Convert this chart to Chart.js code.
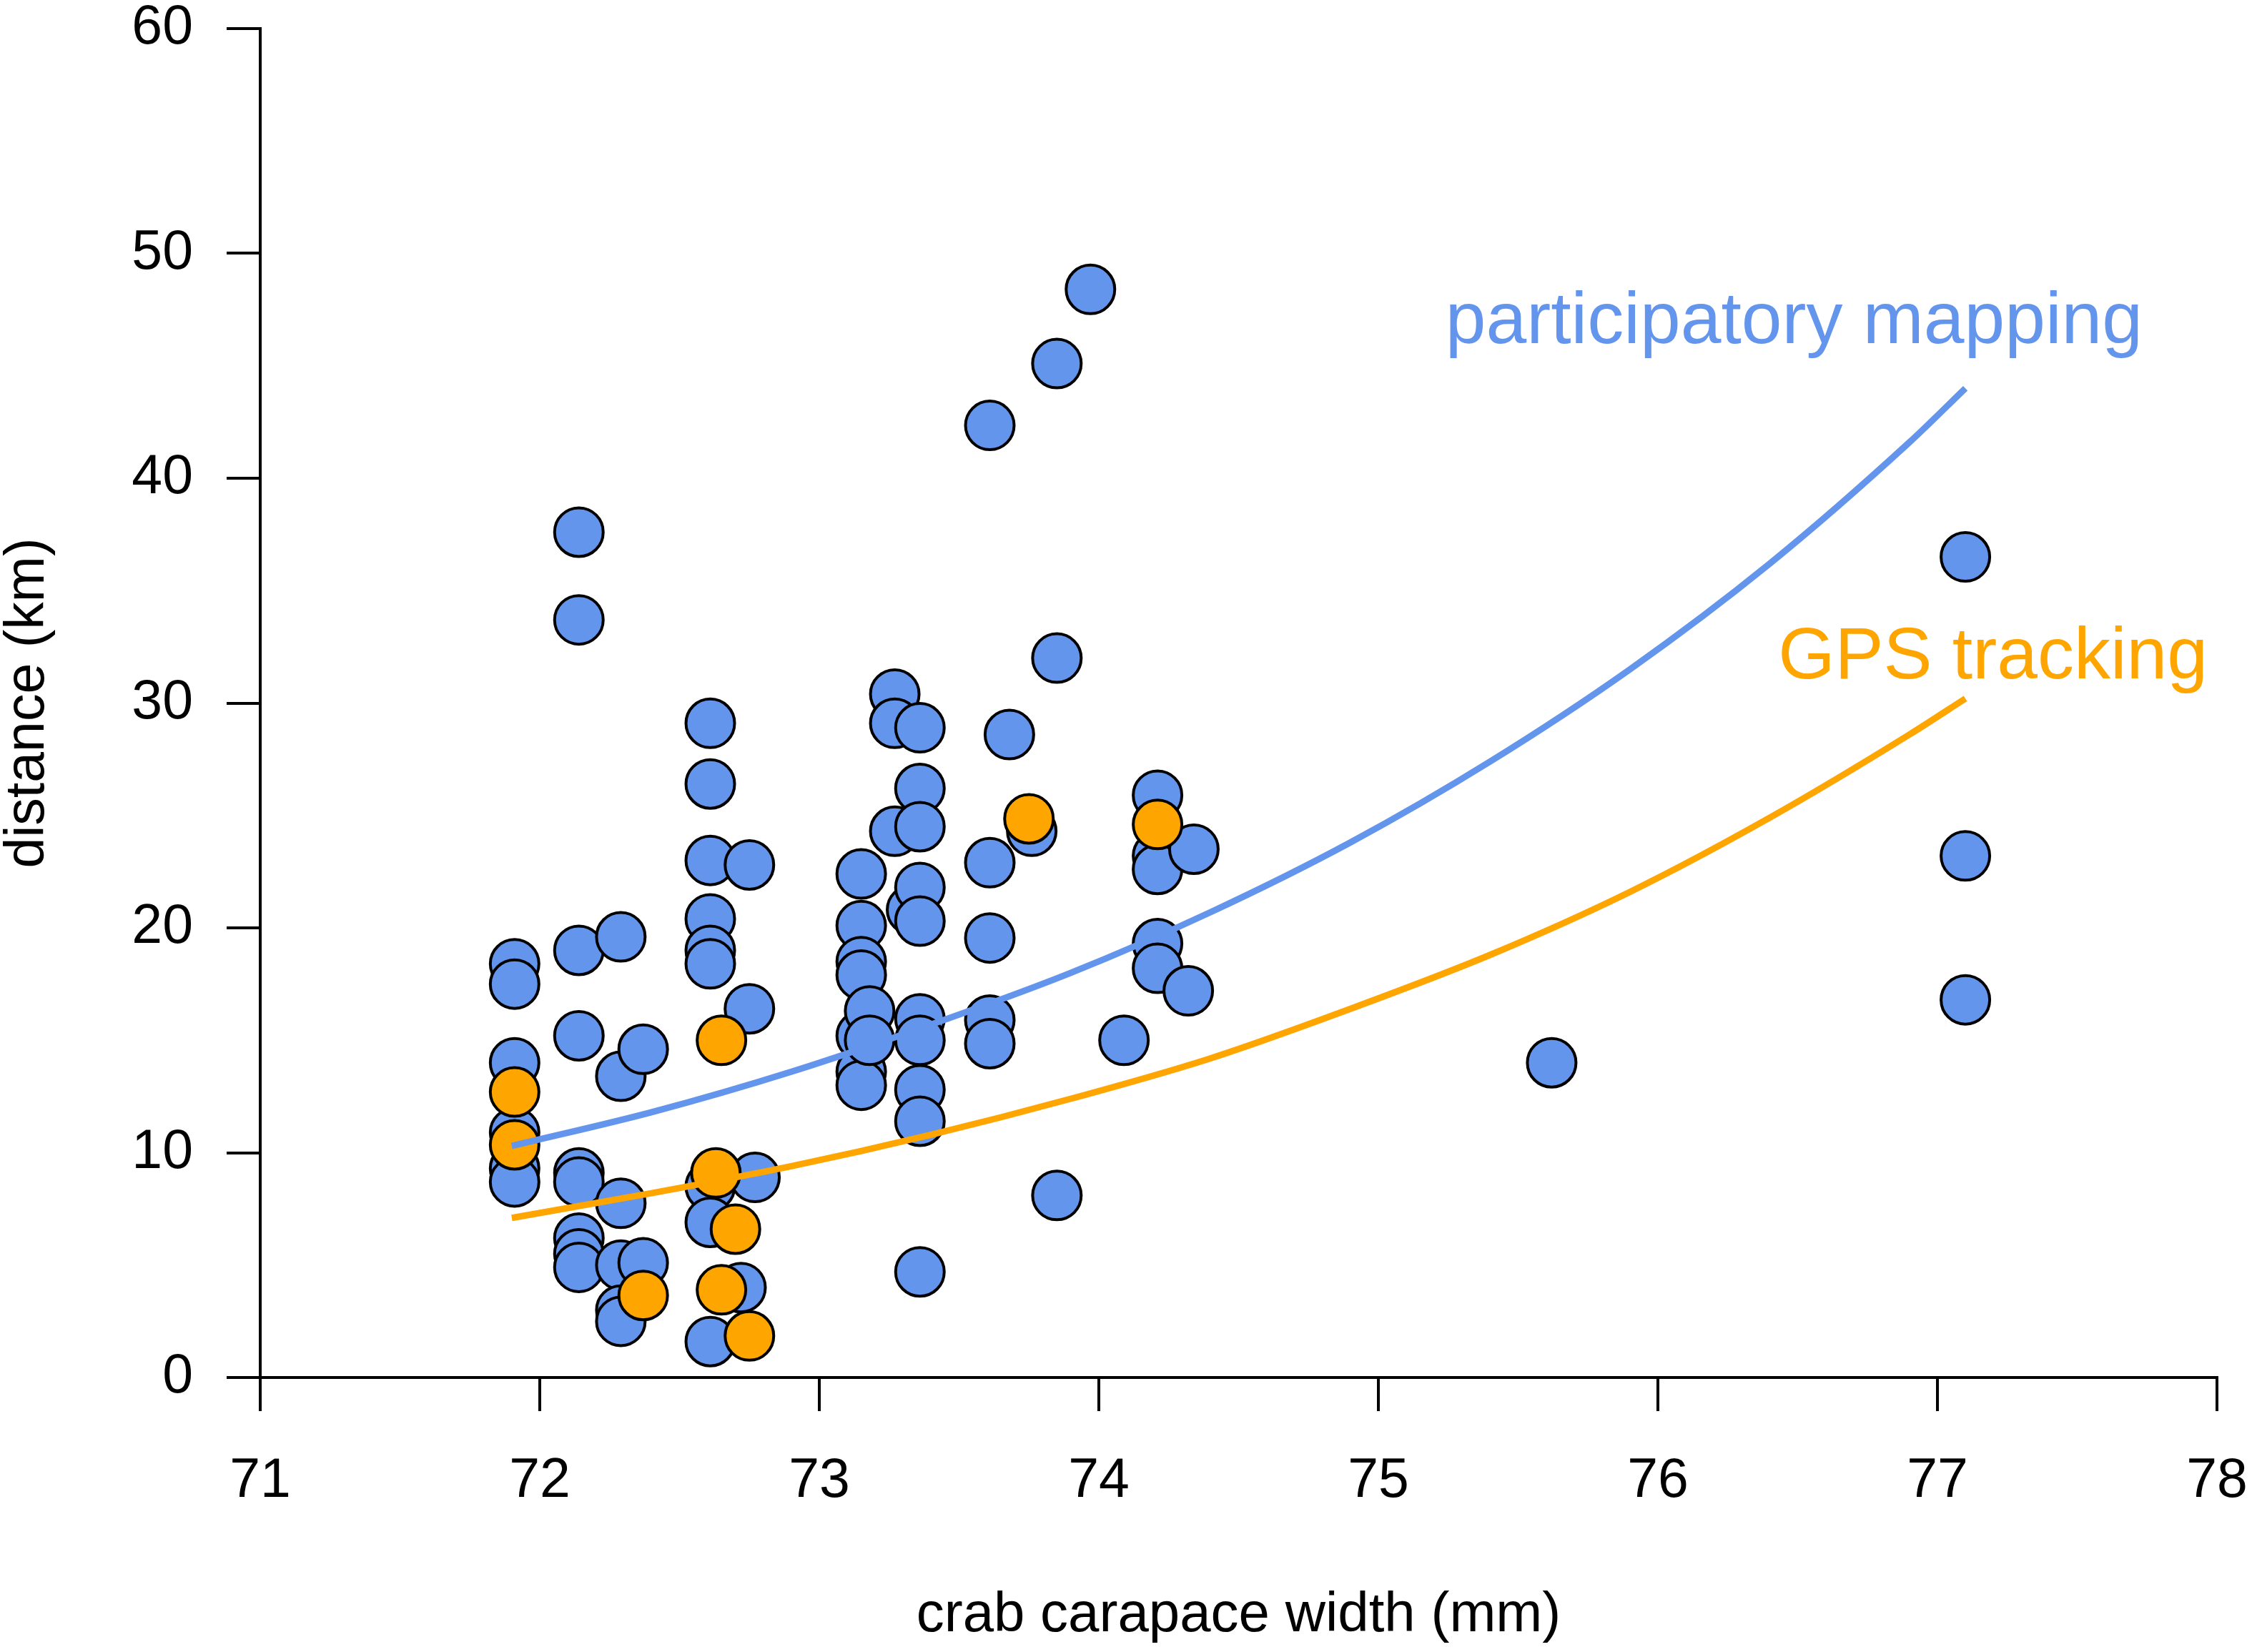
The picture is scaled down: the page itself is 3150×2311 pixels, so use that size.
<!DOCTYPE html>
<html lang="en">
<head>
  <meta charset="UTF-8">
  <title>Crab carapace width vs distance</title>
  <script src="https://cdn.jsdelivr.net/npm/chart.js"></script>
  <style>
    body { margin: 0; background: #fff; }
  </style>
</head>
<body>
  <canvas id="chart" width="3150" height="2311"></canvas>

  <script>
    // participatory mapping (blue points)
    const blueX = [
      71.91, 71.91, 71.91, 71.91, 71.91, 71.91,
      72.14, 72.14, 72.14, 72.14, 72.14, 72.14, 72.14, 72.14, 72.14,
      72.29, 72.29, 72.29, 72.29, 72.29, 72.29,
      72.37, 72.37,
      72.61, 72.61, 72.61, 72.61, 72.61, 72.61, 72.61, 72.61, 72.61,
      72.75, 72.75, 72.77, 72.72,
      73.15, 73.15, 73.15, 73.15, 73.15, 73.15, 73.15,
      73.18, 73.18,
      73.27, 73.27, 73.27, 73.33,
      73.36, 73.36, 73.36, 73.36, 73.36, 73.36, 73.36, 73.36, 73.36, 73.36,
      73.61, 73.61, 73.61, 73.61, 73.61, 73.68, 73.76,
      73.85, 73.85, 73.85, 73.97, 74.09,
      74.21, 74.21, 74.21, 74.21, 74.21, 74.34, 74.32,
      75.62, 77.1, 77.1, 77.1
    ];
    const blueY = [
      18.4, 17.5, 14.0, 10.9, 9.3, 8.7,
      37.6, 33.7, 19.0, 15.2, 9.1, 8.7, 6.2, 5.5, 4.9,
      19.6, 13.4, 7.75, 5.0, 3.0, 2.5,
      14.6, 5.1,
      29.1, 26.4, 23.0, 20.4, 19.0, 18.4, 8.5, 6.9, 1.6,
      22.8, 16.4, 8.9, 4.0,
      22.4, 20.1, 18.5, 17.9, 15.2, 13.6, 13.0,
      16.3, 15.0,
      30.4, 29.1, 24.3, 20.8,
      28.9, 26.2, 24.5, 21.8, 20.3, 15.95, 15.0, 12.8, 11.4, 4.7,
      42.35, 22.9, 19.55, 15.9, 14.85, 28.6, 24.3,
      45.1, 32.0, 8.1, 48.4, 15.0,
      25.9, 23.2, 22.6, 19.3, 18.2, 23.5, 17.2,
      14.0, 36.5, 23.2, 16.8
    ];

    // GPS tracking (orange points)
    const orangeX = [71.91, 71.91, 72.37, 72.65, 72.63, 72.7, 72.65, 72.75, 73.75, 74.21];
    const orangeY = [12.7, 10.35, 3.65, 15.0, 9.1, 6.6, 3.9, 1.85, 24.85, 24.6];

    // fitted curves
    const fitX = [71.9, 72.4, 72.9, 73.4, 73.9, 74.4, 74.9, 75.4, 75.9, 76.4, 76.9, 77.1];
    const blueFitY = [10.3, 11.8, 13.6, 15.7, 18.0, 20.7, 23.8, 27.4, 31.5, 36.2, 41.6, 44.0];
    const orangeFitY = [7.1, 8.2, 9.4, 10.8, 12.4, 14.2, 16.4, 18.8, 21.6, 24.9, 28.6, 30.2];

    const xTicks = [71, 72, 73, 74, 75, 76, 77, 78];
    const yTicks = [0, 10, 20, 30, 40, 50, 60];

    const BLUE = '#6495ED';
    const ORANGE = '#FFA500';
    const FONT = '"Liberation Sans", Arial, sans-serif';

    const pts = (xs, ys) => xs.map((x, i) => ({ x: x, y: ys[i] }));

    // curve labels, anchored in data units
    const curveLabels = {
      id: 'curveLabels',
      afterDatasetsDraw(chart) {
        const { ctx, scales: { x, y } } = chart;
        ctx.save();
        ctx.font = '102px ' + FONT;
        ctx.textAlign = 'left';
        ctx.textBaseline = 'alphabetic';
        ctx.fillStyle = BLUE;
        ctx.fillText('participatory mapping', x.getPixelForValue(75.24), y.getPixelForValue(46.0));
        ctx.fillStyle = ORANGE;
        ctx.fillText('GPS tracking', x.getPixelForValue(76.43), y.getPixelForValue(31.1));
        ctx.restore();
      }
    };

    const axisStyle = {
      grid: { drawOnChartArea: false, drawTicks: true, tickLength: 47, color: '#000', lineWidth: 4 },
      border: { display: true, color: '#000', width: 4 }
    };

    new Chart(document.getElementById('chart'), {
      type: 'scatter',
      data: {
        datasets: [
          {
            type: 'line',
            label: 'participatory mapping fit',
            data: pts(fitX, blueFitY),
            borderColor: BLUE,
            borderWidth: 9,
            pointRadius: 0,
            cubicInterpolationMode: 'monotone',
            fill: false,
            order: 0
          },
          {
            type: 'line',
            label: 'GPS tracking fit',
            data: pts(fitX, orangeFitY),
            borderColor: ORANGE,
            borderWidth: 9,
            pointRadius: 0,
            cubicInterpolationMode: 'monotone',
            fill: false,
            order: 0
          },
          {
            label: 'GPS tracking',
            data: pts(orangeX, orangeY),
            backgroundColor: ORANGE,
            borderColor: '#000',
            borderWidth: 4,
            pointRadius: 34,
            order: 1
          },
          {
            label: 'participatory mapping',
            data: pts(blueX, blueY),
            backgroundColor: BLUE,
            borderColor: '#000',
            borderWidth: 4,
            pointRadius: 34,
            order: 2
          }
        ]
      },
      options: {
        responsive: false,
        animation: false,
        devicePixelRatio: 1,
        layout: { padding: { top: 40, right: 49, left: 0, bottom: 0 } },
        plugins: {
          legend: { display: false },
          tooltip: { enabled: false }
        },
        scales: {
          x: {
            type: 'linear',
            min: 71,
            max: 78,
            afterBuildTicks: (s) => { s.ticks = xTicks.map(v => ({ value: v })); },
            afterFit: (s) => {
              s.height = 384;
              s.paddingLeft = 0;
              s.paddingRight = 0;
            },
            ticks: { color: '#000', padding: 60, font: { family: FONT, size: 77, lineHeight: 1 } },
            title: {
              display: true,
              text: 'crab carapace width (mm)',
              color: '#000',
              font: { family: FONT, size: 78, lineHeight: 1 },
              padding: { top: 0, bottom: 12 }
            },
            ...axisStyle
          },
          y: {
            min: 0,
            max: 60,
            afterBuildTicks: (s) => { s.ticks = yTicks.map(v => ({ value: v })); },
            afterFit: (s) => {
              s.width = 364;
              s.paddingTop = 0;
              s.paddingBottom = 0;
            },
            ticks: { color: '#000', padding: 47, font: { family: FONT, size: 77, lineHeight: 1 } },
            title: {
              display: true,
              text: 'distance (km)',
              color: '#000',
              font: { family: FONT, size: 77, lineHeight: 1 },
              padding: { top: 1, bottom: 0 }
            },
            ...axisStyle
          }
        }
      },
      plugins: [curveLabels]
    });
  </script>
</body>
</html>
